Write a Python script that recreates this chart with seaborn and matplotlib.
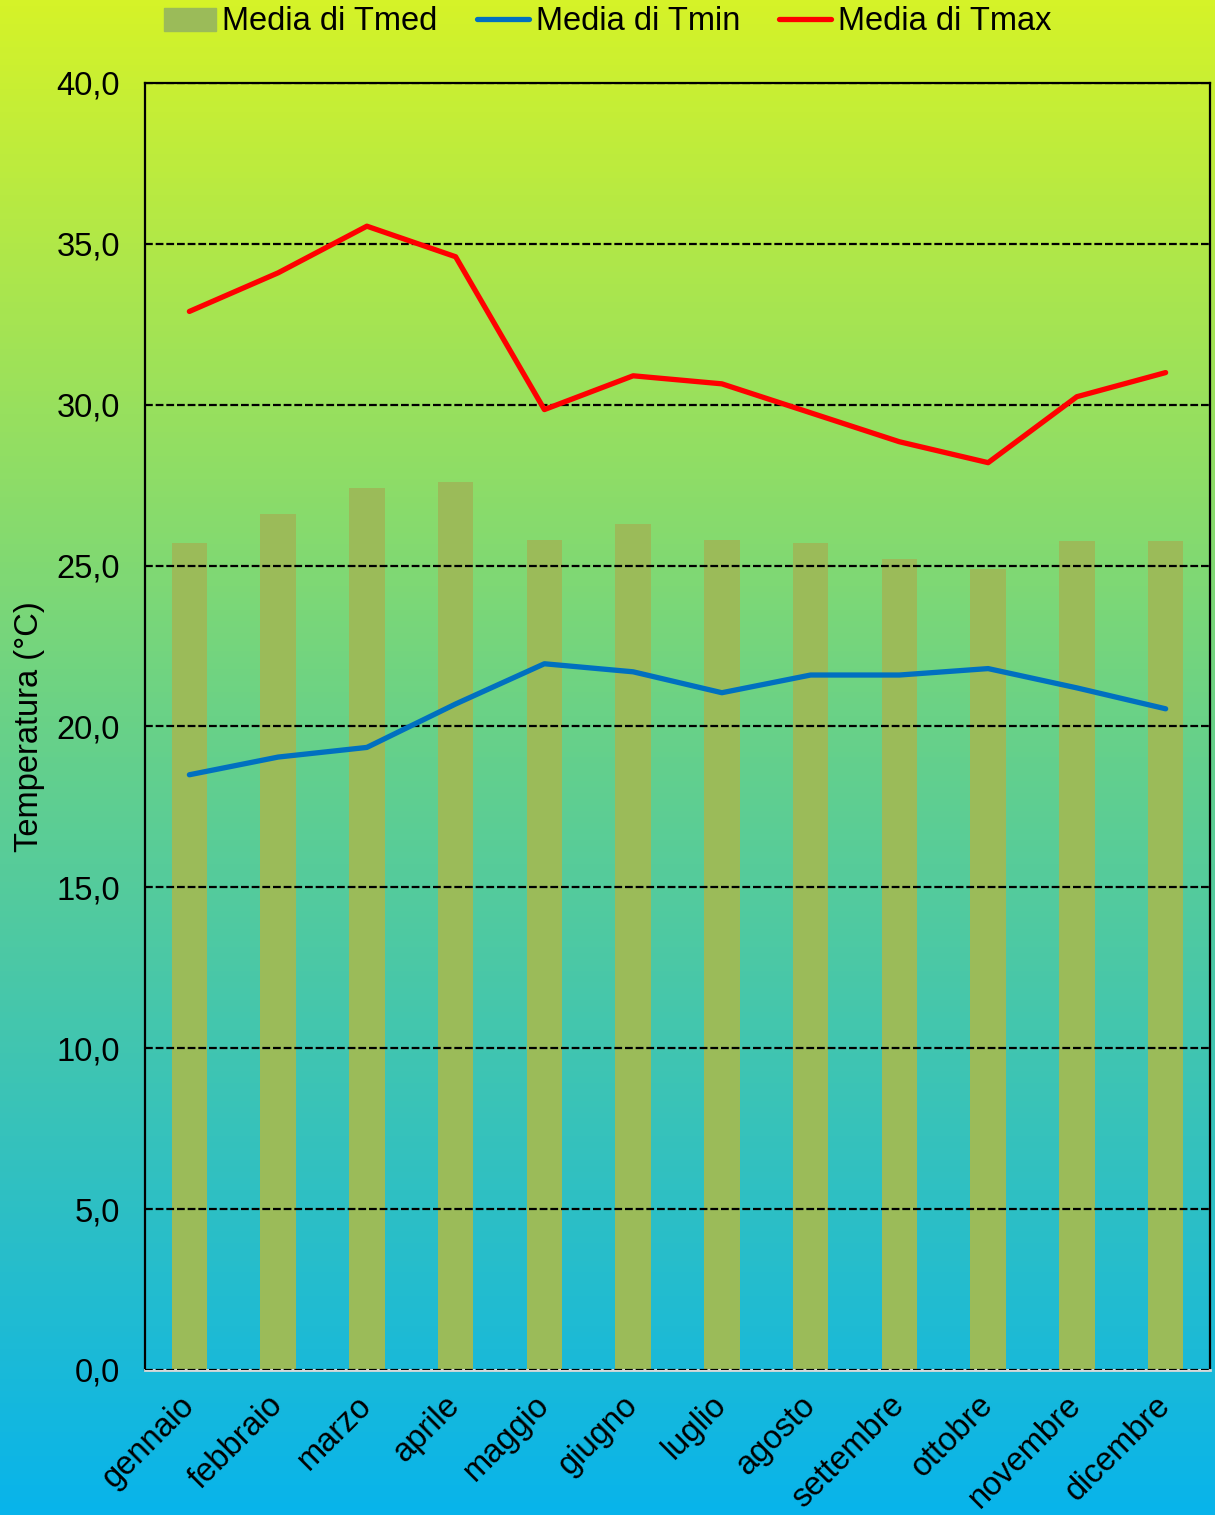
import numpy as np
import pandas as pd
import matplotlib
matplotlib.use("Agg")
import matplotlib.pyplot as plt
import seaborn as sns
from matplotlib.colors import LinearSegmentedColormap
from matplotlib.patches import Patch
from matplotlib.lines import Line2D

####### DATA #######
mesi = ["gennaio", "febbraio", "marzo", "aprile", "maggio", "giugno",
        "luglio", "agosto", "settembre", "ottobre", "novembre", "dicembre"]
tmed = [25.7, 26.6, 27.4, 27.6, 25.8, 26.3, 25.8, 25.7, 25.2, 24.9, 25.75, 25.75]
tmin = [18.5, 19.05, 19.35, 20.7, 21.95, 21.7, 21.05, 21.6, 21.6, 21.8, 21.2, 20.55]
tmax = [32.9, 34.1, 35.55, 34.6, 29.85, 30.9, 30.65, 29.75, 28.85, 28.2, 30.25, 31.0]
yticks = [0, 5, 10, 15, 20, 25, 30, 35, 40]

df = pd.DataFrame({"mese": mesi, "Tmed": tmed, "Tmin": tmin, "Tmax": tmax})

sns.set_style("white")
plt.rcParams["font.family"] = ["Liberation Sans", "DejaVu Sans"]
plt.rcParams["text.color"] = "black"
plt.rcParams["xtick.color"] = "black"
plt.rcParams["ytick.color"] = "black"
plt.rcParams["axes.labelcolor"] = "black"

fs = 23.5

fig = plt.figure(figsize=(12.15, 15.15), dpi=100)

# gradient background over the whole figure
bg = fig.add_axes([0, 0, 1, 1], zorder=-10)
cmap = LinearSegmentedColormap.from_list(
    "bg", [(0.0, (213/255, 243/255, 40/255)),
           (0.5, (100/255, 208/255, 140/255)),
           (1.0, (8/255, 180/255, 235/255))])
bg.imshow(np.linspace(0, 1, 256).reshape(-1, 1), aspect="auto", cmap=cmap,
          extent=[0, 1, 0, 1])
bg.set_axis_off()

ax = fig.add_axes([145/1215, 145/1515, 1065/1215, 1287/1515])
ax.set_facecolor("none")

sns.barplot(data=df, x="mese", y="Tmed", color="#9bbb59", width=0.4,
            saturation=1, linewidth=0, ax=ax, zorder=2)
x = np.arange(len(mesi))
sns.lineplot(x=x, y=tmin, color="#0070c0", lw=3.8, ax=ax, zorder=4)
sns.lineplot(x=x, y=tmax, color="#ff0000", lw=3.8, ax=ax, zorder=4)

ax.set_xlim(-0.5, len(mesi) - 0.5)
ax.set_ylim(0, 40)
ax.set_yticks(yticks)
ax.set_yticklabels([f"{v:.1f}".replace(".", ",") for v in yticks], fontsize=fs)
ax.set_xticks(x)
ax.set_xticklabels(mesi, rotation=45, ha="right", va="center",
                   rotation_mode="anchor", fontsize=fs)
ax.tick_params(axis="x", length=0, pad=22)
ax.tick_params(axis="y", direction="in", length=5, width=1.5, pad=18)
ax.set_xlabel("")
ax.set_ylabel("Temperatura (°C)", fontsize=fs, labelpad=8)

ax.grid(axis="y", color="black", lw=1.6, linestyle=(0, (3.5, 1.3)), zorder=3)
ax.set_axisbelow(False)
for s in ["top", "left", "right"]:
    ax.spines[s].set_color("black")
    ax.spines[s].set_linewidth(1.6)
ax.spines["bottom"].set_color("#d9d9d9")
ax.spines["bottom"].set_linewidth(2)

handles = [Patch(color="#9bbb59", label="Media di Tmed"),
           Line2D([], [], color="#0070c0", lw=3.8, label="Media di Tmin"),
           Line2D([], [], color="#ff0000", lw=3.8, label="Media di Tmax")]
fig.legend(handles=handles, loc="center", bbox_to_anchor=(0.5, 1 - 22/1515),
           ncol=3, frameon=False, fontsize=fs, handlelength=1.6,
           handletextpad=0.2, columnspacing=1.2)

fig.savefig("out.png", dpi=100)
